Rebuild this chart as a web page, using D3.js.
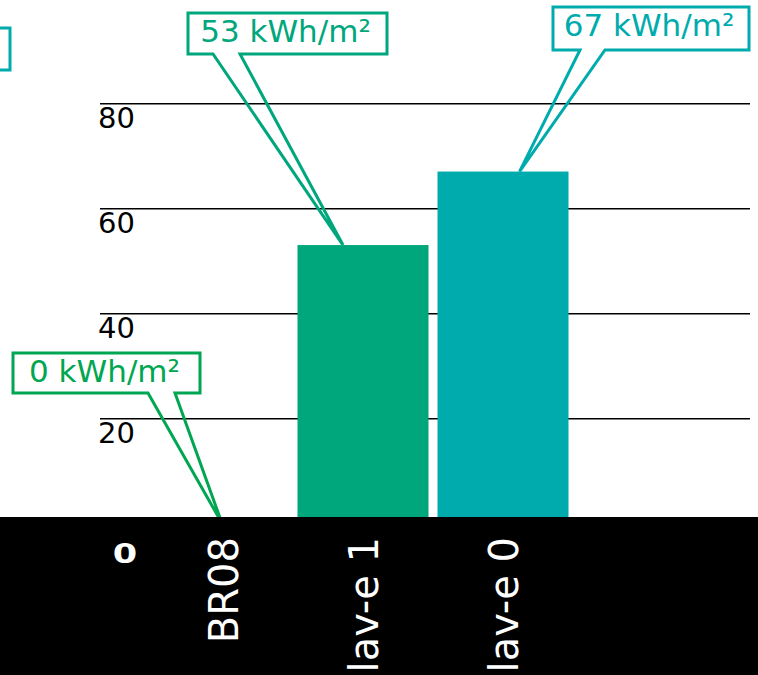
<!DOCTYPE html>
<html>
<head>
<meta charset="utf-8">
<script src="https://cdn.jsdelivr.net/npm/d3@7"></script>
<style>
  html, body { margin: 0; padding: 0; background: #fff; overflow: hidden; }
  svg { display: block; font-family: "DejaVu Sans", sans-serif; }
</style>
</head>
<body>
<svg id="chart" width="758" height="675"></svg>
<script>
// Energy demand per variant
const categories = ["BR08", "lav-e 1", "lav-e 0"];
const values = [0, 53, 67];
const valueLabels = ["0 kWh/m²", "53 kWh/m²", "67 kWh/m²"];
const yTicks = [20, 40, 60, 80];
const zeroLabel = "0";
const colors = ["#00a651", "#00a67c", "#00abae"];

// Callout box placement (left, top, width, height), pointer base x positions and tip offset
const calloutLayout = [
  { bx: 13,  by: 353, bw: 187, bh: 40, b1: 148, b2: 175, dx: -1 },
  { bx: 188, by: 13,  bw: 199, bh: 41, b1: 213, b2: 240, dx: -20 },
  { bx: 553, by: 7,   bw: 196, bh: 43, b1: 580, b2: 605, dx: 16.5 }
];

const svg = d3.select("#chart");
const W = 758, H = 675;

const x = d3.scaleBand()
  .domain(categories)
  .range([153, 573])
  .paddingInner(0.0643)
  .paddingOuter(0.0321);

const y = d3.scaleLinear()
  .domain([0, 80])
  .range([523.3, 103.3]);

// Horizontal grid with labels sitting under each line
const yAxis = svg.append("g")
  .attr("transform", "translate(100,0)")
  .call(d3.axisRight(y).tickValues(yTicks).tickSize(650).tickFormat(d3.format("d")));
yAxis.select(".domain").remove();
yAxis.selectAll(".tick line").attr("stroke", "#000").attr("stroke-width", 1.5);
yAxis.selectAll(".tick text")
  .attr("x", -2)
  .attr("dy", "0.845em")
  .attr("text-anchor", "start")
  .attr("fill", "#000")
  .style("font-size", "29px")
  .style("font-family", "DejaVu Sans, sans-serif");

// Bars
svg.append("g")
  .selectAll("rect")
  .data(values)
  .join("rect")
  .attr("x", (d, i) => x(categories[i]))
  .attr("width", x.bandwidth())
  .attr("y", d => y(d))
  .attr("height", d => y(0) - y(d))
  .attr("fill", (d, i) => colors[i]);

// Partially visible callout box at the left edge
svg.append("rect")
  .attr("x", -200).attr("y", 28)
  .attr("width", 210).attr("height", 42)
  .attr("fill", "#fff")
  .attr("stroke", colors[2])
  .attr("stroke-width", 3);

// Value callouts
const callouts = svg.append("g")
  .selectAll("g")
  .data(values)
  .join("g");

callouts.each(function (d, i) {
  const g = d3.select(this);
  const L = calloutLayout[i];
  const tipX = x(categories[i]) + x.bandwidth() / 2 + L.dx;
  const tipY = y(d);
  g.append("rect")
    .attr("x", L.bx).attr("y", L.by)
    .attr("width", L.bw).attr("height", L.bh)
    .attr("fill", "#fff");
  const p = d3.path();
  p.moveTo(L.bx, L.by);
  p.lineTo(L.bx + L.bw, L.by);
  p.lineTo(L.bx + L.bw, L.by + L.bh);
  p.lineTo(L.b2, L.by + L.bh);
  p.lineTo(tipX, tipY);
  p.lineTo(L.b1, L.by + L.bh);
  p.lineTo(L.bx, L.by + L.bh);
  p.closePath();
  g.append("path")
    .attr("d", p.toString())
    .attr("fill", "none")
    .attr("stroke", colors[i])
    .attr("stroke-width", 3)
    .attr("stroke-linejoin", "miter");
  g.append("text")
    .attr("x", L.bx + L.bw / 2 - 2)
    .attr("y", L.by + 29)
    .attr("text-anchor", "middle")
    .attr("fill", colors[i])
    .style("font-size", "31px")
    .text(valueLabels[i]);
});

// Black axis band along the bottom
svg.append("rect")
  .attr("x", 0).attr("y", 517)
  .attr("width", W).attr("height", H - 517)
  .attr("fill", "#000");

svg.append("text")
  .attr("transform", "translate(125,563) scale(1.3,1)")
  .attr("text-anchor", "middle")
  .attr("fill", "#fff")
  .style("font-size", "27px")
  .style("font-weight", "bold")
  .text(zeroLabel);

// Category labels, rotated
const xAxis = svg.append("g")
  .attr("transform", "translate(0,537)")
  .call(d3.axisBottom(x).tickSize(0));
xAxis.select(".domain").remove();
xAxis.selectAll(".tick text")
  .attr("transform", "rotate(-90)")
  .attr("x", 0)
  .attr("y", 0)
  .attr("dx", 0)
  .attr("dy", "0.38em")
  .attr("text-anchor", "end")
  .attr("fill", "#fff")
  .style("font-size", "40px")
  .style("font-family", "DejaVu Sans, sans-serif");
</script>
</body>
</html>
